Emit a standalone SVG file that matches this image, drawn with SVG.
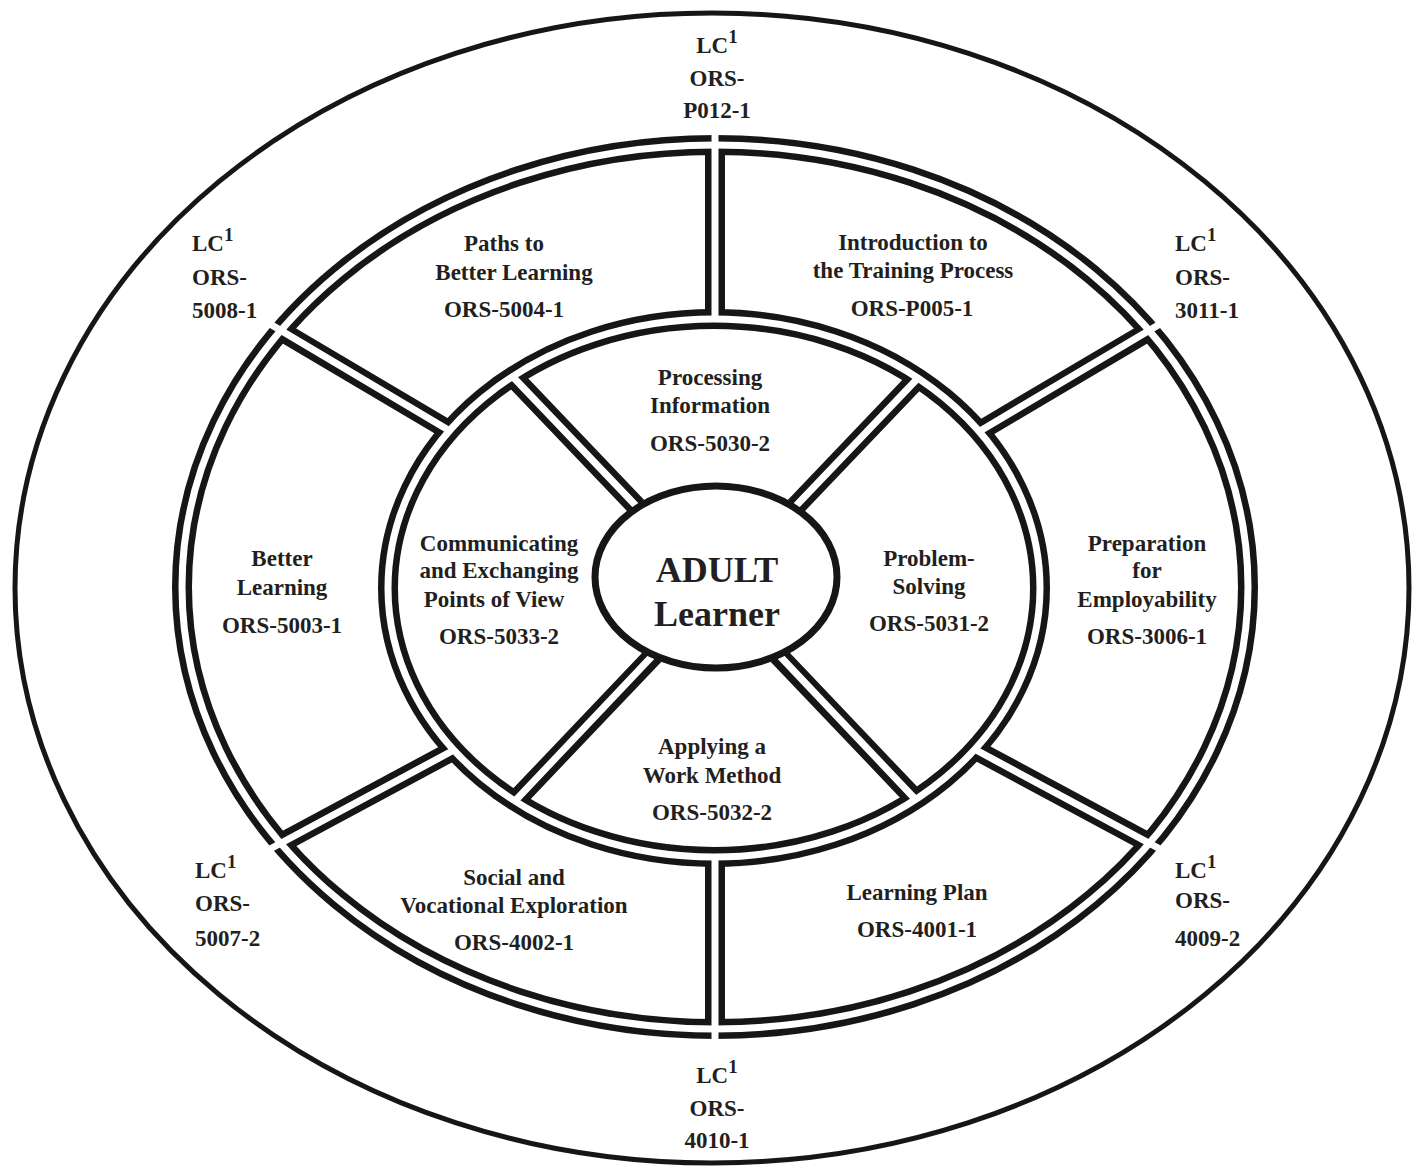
<svg xmlns="http://www.w3.org/2000/svg" width="1413" height="1167" viewBox="0 0 1413 1167">
<style>
.k{fill:none;stroke:#161616;stroke-width:20}
.kf{fill:#fff;stroke:#161616;stroke-width:20}
.w{fill:none;stroke:#fff;stroke-width:7}
text{font-family:"Liberation Serif","Times New Roman",serif;font-weight:bold;fill:#231f20;font-size:23px;text-anchor:middle}
.big{font-size:36px}
.l{text-anchor:start}
.sup{font-size:19px}
</style>
<defs>
<filter id="soft" x="-5%" y="-5%" width="110%" height="110%"><feGaussianBlur stdDeviation="0.7"/></filter>
</defs>
<rect width="1413" height="1167" fill="#fff"/>
<g id="connectors" filter="url(#soft)">
<ellipse cx="712" cy="588" rx="697" ry="575" fill="none" stroke="#161616" stroke-width="5"/>
<path class="k" d="M715 319V145 M715 857V1029 M450 431L281 331 M980 431L1149 331 M454 750L281 843 M976 750L1149 843"/>
<ellipse class="k" cx="715" cy="587" rx="533" ry="442"/>
<ellipse class="kf" cx="714" cy="588" rx="326" ry="269"/>
<path class="k" d="M637 507L513 377 M795 507L919 377 M654 655L515 801 M778 655L917 801"/>
<ellipse cx="716" cy="577" rx="121" ry="91" fill="#fff"/>
<ellipse class="w" cx="715" cy="587" rx="533" ry="442"/>
<ellipse class="w" cx="714" cy="588" rx="326" ry="269"/>
<path class="w" d="M715 319V131 M715 857V1043 M450 431L270 324 M980 431L1160 324 M454 750L270 849 M976 750L1160 849"/>
<path class="w" d="M640 510L513 377 M792 510L919 377 M657 651L515 801 M775 651L917 801"/>
<ellipse cx="716" cy="577" rx="121" ry="91" fill="none" stroke="#161616" stroke-width="7"/>
</g>
<g id="lc-top"><text x="717" y="53">LC<tspan class="sup" dy="-10">1</tspan></text><text x="717" y="86">ORS-</text><text x="717" y="118">P012-1</text></g>
<g id="lc-topleft"><text class="l" x="192" y="251">LC<tspan class="sup" dy="-10">1</tspan></text><text class="l" x="192" y="285">ORS-</text><text class="l" x="192" y="318">5008-1</text></g>
<g id="lc-topright"><text class="l" x="1175" y="251">LC<tspan class="sup" dy="-10">1</tspan></text><text class="l" x="1175" y="285">ORS-</text><text class="l" x="1175" y="318">3011-1</text></g>
<g id="lc-bottomleft"><text class="l" x="195" y="878">LC<tspan class="sup" dy="-10">1</tspan></text><text class="l" x="195" y="911">ORS-</text><text class="l" x="195" y="946">5007-2</text></g>
<g id="lc-bottomright"><text class="l" x="1175" y="878">LC<tspan class="sup" dy="-10">1</tspan></text><text class="l" x="1175" y="908">ORS-</text><text class="l" x="1175" y="946">4009-2</text></g>
<g id="lc-bottom"><text x="717" y="1083">LC<tspan class="sup" dy="-10">1</tspan></text><text x="717" y="1116">ORS-</text><text x="717" y="1148">4010-1</text></g>
<g id="paths"><text x="504" y="251">Paths to</text><text x="514" y="280">Better Learning</text><text x="504" y="317">ORS-5004-1</text></g>
<g id="intro"><text x="913" y="250">Introduction to</text><text x="913" y="278">the Training Process</text><text x="912" y="316">ORS-P005-1</text></g>
<g id="processing"><text x="710" y="385">Processing</text><text x="710" y="413">Information</text><text x="710" y="451">ORS-5030-2</text></g>
<g id="better"><text x="282" y="566">Better</text><text x="282" y="595">Learning</text><text x="282" y="633">ORS-5003-1</text></g>
<g id="communicating"><text x="499" y="551">Communicating</text><text x="499" y="578">and Exchanging</text><text x="494" y="607">Points of View</text><text x="499" y="644">ORS-5033-2</text></g>
<g id="adult"><text class="big" x="717" y="582">ADULT</text><text class="big" x="717" y="626">Learner</text></g>
<g id="problem"><text x="929" y="566">Problem-</text><text x="929" y="594">Solving</text><text x="929" y="631">ORS-5031-2</text></g>
<g id="preparation"><text x="1147" y="551">Preparation</text><text x="1147" y="578">for</text><text x="1147" y="607">Employability</text><text x="1147" y="644">ORS-3006-1</text></g>
<g id="applying"><text x="712" y="754">Applying a</text><text x="712" y="783">Work Method</text><text x="712" y="820">ORS-5032-2</text></g>
<g id="social"><text x="514" y="885">Social and</text><text x="514" y="913">Vocational Exploration</text><text x="514" y="950">ORS-4002-1</text></g>
<g id="plan"><text x="917" y="900">Learning Plan</text><text x="917" y="937">ORS-4001-1</text></g>
</svg>
